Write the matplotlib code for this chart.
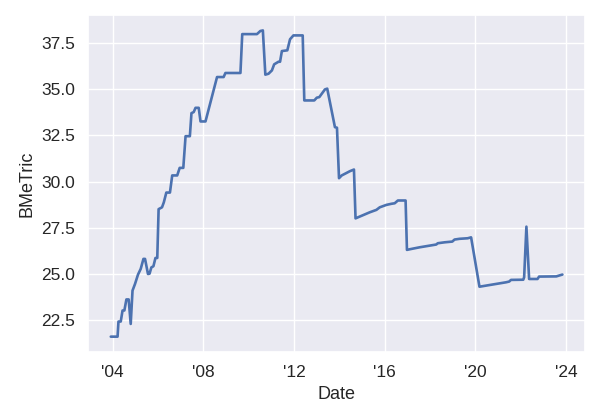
import matplotlib
matplotlib.use("Agg")
import matplotlib.pyplot as plt
import matplotlib.dates as mdates
import seaborn as sns
import pandas as pd
import numpy as np

# decimal years and values
years = [2003.91, 2004.21, 2004.25, 2004.35, 2004.43, 2004.51, 2004.60, 2004.70, 2004.79, 2004.87,
         2004.98, 2005.11, 2005.23, 2005.35, 2005.42, 2005.55, 2005.62, 2005.70, 2005.79, 2005.88,
         2005.96, 2006.02, 2006.17, 2006.25, 2006.36, 2006.52, 2006.62, 2006.84, 2006.95, 2007.11,
         2007.21, 2007.40, 2007.47, 2007.57, 2007.65, 2007.79, 2007.87, 2008.09, 2008.60, 2008.89,
         2008.97, 2009.63, 2009.71, 2010.36, 2010.51, 2010.62, 2010.73, 2010.87, 2011.02, 2011.12,
         2011.31, 2011.38, 2011.46, 2011.70, 2011.82, 2011.97, 2012.38, 2012.45, 2012.89, 2013.00,
         2013.11, 2013.36, 2013.46, 2013.80, 2013.89, 2013.98, 2014.10, 2014.32, 2014.46, 2014.64,
         2014.71, 2014.90, 2015.34, 2015.63, 2015.78, 2016.07, 2016.29, 2016.44, 2016.58, 2016.92,
         2016.98, 2017.17, 2017.54, 2017.98, 2018.27, 2018.34, 2018.64, 2018.98, 2019.08, 2019.30,
         2019.66, 2019.81, 2020.18, 2020.47, 2020.91, 2021.35, 2021.49, 2021.57, 2022.11, 2022.15,
         2022.25, 2022.37, 2022.74, 2022.81, 2023.57, 2023.84]
values = [21.58, 21.58, 22.4, 22.4, 23.0, 23.0, 23.6, 23.6, 22.27, 24.08,
          24.44, 24.95, 25.26, 25.8, 25.8, 24.98, 25.0, 25.34, 25.4, 25.85,
          25.85, 28.5, 28.6, 28.87, 29.4, 29.4, 30.33, 30.33, 30.74, 30.74,
          32.46, 32.46, 33.71, 33.77, 34.0, 34.0, 33.26, 33.26, 35.67, 35.67,
          35.89, 35.89, 38.0, 38.0, 38.17, 38.2, 35.8, 35.85, 36.03, 36.36,
          36.5, 36.5, 37.08, 37.12, 37.72, 37.93, 37.93, 34.4, 34.4, 34.55,
          34.58, 35.0, 35.04, 32.95, 32.92, 30.18, 30.33, 30.47, 30.56, 30.65,
          28.0, 28.1, 28.33, 28.46, 28.6, 28.73, 28.79, 28.82, 28.97, 28.97,
          26.29, 26.34, 26.43, 26.52, 26.58, 26.65, 26.70, 26.74, 26.85, 26.89,
          26.92, 26.97, 24.29, 24.35, 24.44, 24.53, 24.57, 24.66, 24.67, 24.8,
          27.55, 24.71, 24.71, 24.84, 24.85, 24.95]

dates = [pd.Timestamp(int(y), 1, 1) + pd.Timedelta(days=(y - int(y)) * 365.25) for y in years]

sns.set_theme(style="darkgrid")
plt.rcParams['font.family'] = ['Liberation Sans', 'DejaVu Sans']

fig = plt.figure(figsize=(6, 4.2), dpi=100)
ax = fig.add_axes([0.147, 0.162, 0.828, 0.802])
ax.plot(dates, values, color="#4c72b0", linewidth=1.9)
ax.xaxis.set_major_locator(mdates.YearLocator(4))
ax.xaxis.set_major_formatter(mdates.DateFormatter("'%y"))
ax.set_xlabel("Date", fontsize=13)
ax.set_ylabel("BMeTric", fontsize=13)
ax.tick_params(labelsize=12.5)
fig.savefig("out.png", dpi=100)
